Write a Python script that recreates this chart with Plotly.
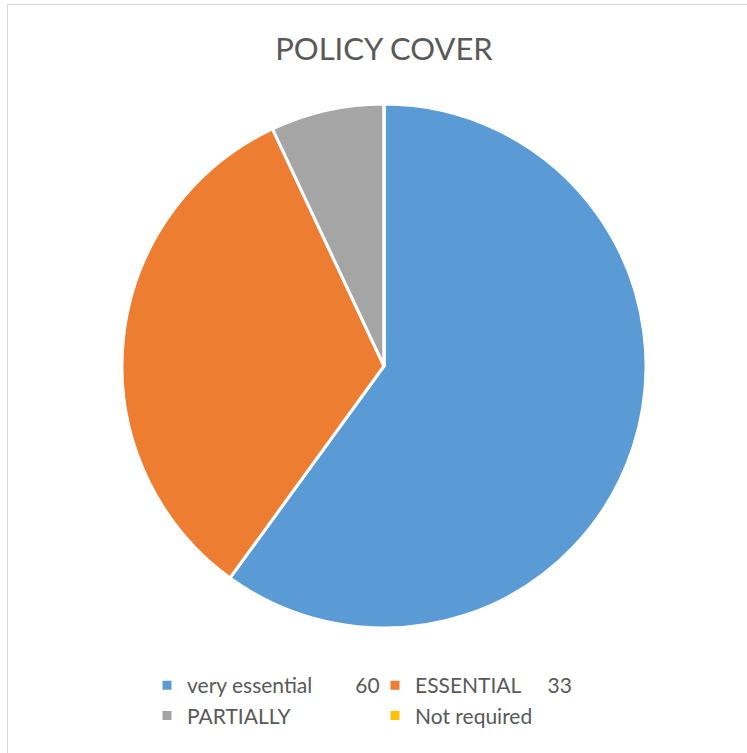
import plotly.graph_objects as go

NB = "\u00a0"
labels = ["very essential" + NB * 8 + "60",
          "ESSENTIAL" + NB * 5 + "33",
          "PARTIALLY",
          "Not required"]
values = [60, 33, 7, 0]
colors = ["#5B9BD5", "#ED7D31", "#A5A5A5", "#FFC000"]

W, H = 747, 753
L, R = 122, 101          # plot area = pie square horizontally
PW = W - L - R


def px_x(x):
    return (x - L) / PW


def px_y(y):
    return 1 - y / H


fig = go.Figure(go.Pie(
    labels=labels, values=values, sort=False, direction="clockwise", rotation=0,
    textinfo="none", hoverinfo="label+value",
    marker=dict(colors=colors, line=dict(color="white", width=3)),
    domain=dict(x=[0, 1], y=[px_y(628), px_y(104)]),
))
fig.update_layout(
    width=W, height=H, margin=dict(l=L, r=R, t=0, b=0, autoexpand=False),
    paper_bgcolor="white", plot_bgcolor="white",
    title=dict(text="POLICY COVER", x=384 / W, xanchor="center", y=1 - 49 / H, yanchor="middle",
               font=dict(family="Lato", size=31, color="#595959")),
    font=dict(family="Lato", color="#595959"),
    legend=dict(orientation="h", x=px_x(147), xanchor="left", y=px_y(665), yanchor="top",
                font=dict(family="Lato", size=21, color="#595959"),
                entrywidth=183, entrywidthmode="pixels", itemwidth=30,
                bgcolor="rgba(0,0,0,0)"),
    shapes=[dict(type="rect", xref="paper", yref="paper", x0=px_x(7.5), y0=-0.02,
                 x1=px_x(W + 10), y1=px_y(4.5),
                 line=dict(color="#D9D9D9", width=1), fillcolor="rgba(0,0,0,0)")],
)
fig.write_html("out.html")
